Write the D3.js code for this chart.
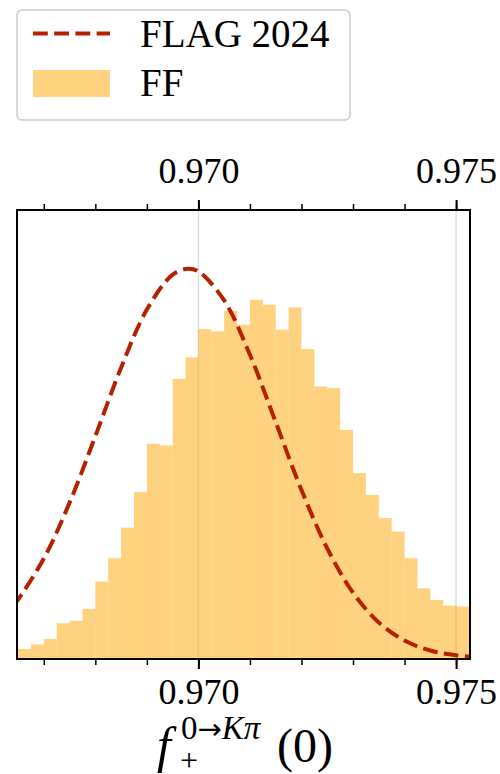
<!DOCTYPE html>
<html>
<head>
<meta charset="utf-8">
<script src="https://cdn.jsdelivr.net/npm/d3@7"></script>
<style>
    body { margin: 0; background: #fff; }
    text { font-family: "Liberation Serif", "DejaVu Serif", serif; fill: #000; }
</style>
</head>
<body>
<div id="chart"></div>
<script>
// histogram bins (left edges) and density heights
const binEdges = [
    0.96625, 0.96650, 0.96675, 0.96700, 0.96725, 0.96750, 0.96775, 0.96800,
    0.96825, 0.96850, 0.96875, 0.96900, 0.96925, 0.96950, 0.96975, 0.97000,
    0.97025, 0.97050, 0.97075, 0.97100, 0.97125, 0.97150, 0.97175, 0.97200,
    0.97225, 0.97250, 0.97275, 0.97300, 0.97325, 0.97350, 0.97375, 0.97400,
    0.97425, 0.97450, 0.97475, 0.97500, 0.97525
];
const binWidth = 0.00025;
const ffDensity = [
    5.0, 6.0, 8.8, 12.0, 21.5, 22.9, 30.1, 46.5,
    60.6, 79.0, 100.3, 129.4, 128.4, 168.5, 181.3, 198.4,
    197.0, 209.4, 201.0, 216.0, 213.0, 198.0, 211.4, 186.4,
    163.9, 162.9, 137.8, 111.8, 98.7, 84.7, 76.6, 60.6,
    42.5, 35.5, 32.1, 31.5, 28.0
];

// FLAG 2024 curve
const flagX = [
    0.9664, 0.9665, 0.9670, 0.9675, 0.9680, 0.9685, 0.9690, 0.9695, 0.9698,
    0.9700, 0.9705, 0.9710, 0.9715, 0.9720, 0.9725, 0.9730, 0.9735, 0.9740,
    0.9745, 0.9750, 0.9755
];
const flagY = [
    31.8, 35.7, 60.4, 94.0, 134.0, 175.2, 210.1, 231.1, 234.7,
    233.1, 215.6, 182.9, 142.4, 101.6, 66.5, 39.9, 22.0, 11.1,
    5.1, 2.2, 0.9
];

// ticks
const majorTicks = [0.970, 0.975];
const minorTicks = [0.967, 0.968, 0.969, 0.970, 0.971, 0.972, 0.973, 0.974, 0.975];

const legendItems = ['FLAG 2024', 'FF'];

const dimensions = { width: 500, height: 774 };
const margin = { top: 210, right: 30, bottom: 115, left: 17 };

const graphWidth = dimensions.width - margin.left - margin.right;
const graphHeight = dimensions.height - margin.top - margin.bottom;

const lineColor = '#b42000';
const barColor = '#ffa500';

const svg = d3.select('#chart')
    .append('svg')
    .attr('width', dimensions.width)
    .attr('height', dimensions.height);

const graph = svg.append('g')
    .attr('transform', `translate(${margin.left}, ${margin.top})`);

// scales
const x = d3.scaleLinear().domain([0.96648, 0.97527]).range([0, graphWidth]);
const y = d3.scaleLinear().domain([0, 270]).range([graphHeight, 0]);

graph.append('clipPath')
    .attr('id', 'plot-clip')
    .append('rect')
    .attr('width', graphWidth)
    .attr('height', graphHeight);

// grid
graph.selectAll('.grid')
    .data(majorTicks)
    .enter()
    .append('line')
        .attr('class', 'grid')
        .attr('x1', d => x(d))
        .attr('x2', d => x(d))
        .attr('y1', 0)
        .attr('y2', graphHeight)
        .attr('stroke', '#dddddd')
        .attr('stroke-width', 1.5);

const plot = graph.append('g').attr('clip-path', 'url(#plot-clip)');

// histogram
plot.selectAll('rect.bar')
    .data(ffDensity)
    .enter()
    .append('rect')
        .attr('class', 'bar')
        .attr('x', (d, i) => x(binEdges[i]))
        .attr('width', (d, i) => x(binEdges[i] + binWidth) - x(binEdges[i]))
        .attr('y', d => y(d))
        .attr('height', d => graphHeight - y(d))
        .attr('fill', barColor)
        .attr('fill-opacity', 0.5);

// FLAG curve
const line = d3.line()
    .x(d => x(d[0]))
    .y(d => y(d[1]))
    .curve(d3.curveCatmullRom);

plot.append('path')
    .datum(flagX.map((v, i) => [v, flagY[i]]))
    .attr('d', line)
    .attr('fill', 'none')
    .attr('stroke', lineColor)
    .attr('stroke-width', 4)
    .attr('stroke-dasharray', '14.8 6.4');

// axes
const styleAxis = (g) => {
    g.select('.domain').remove();
    g.selectAll('.tick line').attr('stroke', '#000');
};

const xAxisBottom = graph.append('g')
    .attr('transform', `translate(0, ${graphHeight})`)
    .call(d3.axisBottom(x).tickValues(majorTicks).tickSize(10).tickPadding(9).tickFormat(d3.format('.3f')))
    .call(styleAxis);
xAxisBottom.selectAll('.tick line').attr('stroke-width', 2);
xAxisBottom.selectAll('text').attr('font-size', 36).attr('font-family', null);

const xAxisTop = graph.append('g')
    .call(d3.axisTop(x).tickValues(majorTicks).tickSize(10).tickPadding(17).tickFormat(d3.format('.3f')))
    .call(styleAxis);
xAxisTop.selectAll('.tick line').attr('stroke-width', 2);
xAxisTop.selectAll('text').attr('font-size', 36).attr('font-family', null);

graph.append('g')
    .attr('transform', `translate(0, ${graphHeight})`)
    .call(d3.axisBottom(x).tickValues(minorTicks).tickSize(6).tickFormat(''))
    .call(styleAxis)
    .selectAll('.tick line').attr('stroke-width', 1.5);

graph.append('g')
    .call(d3.axisTop(x).tickValues(minorTicks).tickSize(6).tickFormat(''))
    .call(styleAxis)
    .selectAll('.tick line').attr('stroke-width', 1.5);

// frame
graph.append('rect')
    .attr('width', graphWidth)
    .attr('height', graphHeight)
    .attr('fill', 'none')
    .attr('stroke', '#000')
    .attr('stroke-width', 2);

// x label: f_+^{0->K pi}(0)
const xLabel = svg.append('g');
xLabel.append('text')
    .attr('x', 157)
    .attr('y', 762)
    .attr('font-size', 50)
    .attr('font-style', 'italic')
    .text('f');
const sup = xLabel.append('text')
    .attr('x', 181)
    .attr('y', 739)
    .attr('font-size', 33);
sup.append('tspan').text('0');
sup.append('tspan').attr('font-family', 'DejaVu Sans').attr('font-size', 29).text('→');
sup.append('tspan').attr('font-style', 'italic').text('Kπ');
xLabel.append('text')
    .attr('x', 180)
    .attr('y', 771)
    .attr('font-size', 32)
    .text('+');
xLabel.append('text')
    .attr('x', 277)
    .attr('y', 762)
    .attr('font-size', 48)
    .text('(0)');

// legend
const legend = svg.append('g');
legend.append('rect')
    .attr('x', 17)
    .attr('y', 10)
    .attr('width', 333)
    .attr('height', 110)
    .attr('rx', 5)
    .attr('fill', '#fff')
    .attr('fill-opacity', 0.8)
    .attr('stroke', '#cccccc')
    .attr('stroke-width', 1.5);

legend.append('line')
    .attr('x1', 33)
    .attr('x2', 110)
    .attr('y1', 33.5)
    .attr('y2', 33.5)
    .attr('stroke', lineColor)
    .attr('stroke-width', 4)
    .attr('stroke-dasharray', '14.8 6.4');

legend.append('rect')
    .attr('x', 33)
    .attr('y', 70)
    .attr('width', 77)
    .attr('height', 27)
    .attr('fill', barColor)
    .attr('fill-opacity', 0.5);

legend.selectAll('text.legend')
    .data(legendItems)
    .enter()
    .append('text')
        .attr('class', 'legend')
        .attr('x', 140)
        .attr('y', (d, i) => 47 + i * 49)
        .attr('font-size', 39)
        .text(d => d);
</script>
</body>
</html>
